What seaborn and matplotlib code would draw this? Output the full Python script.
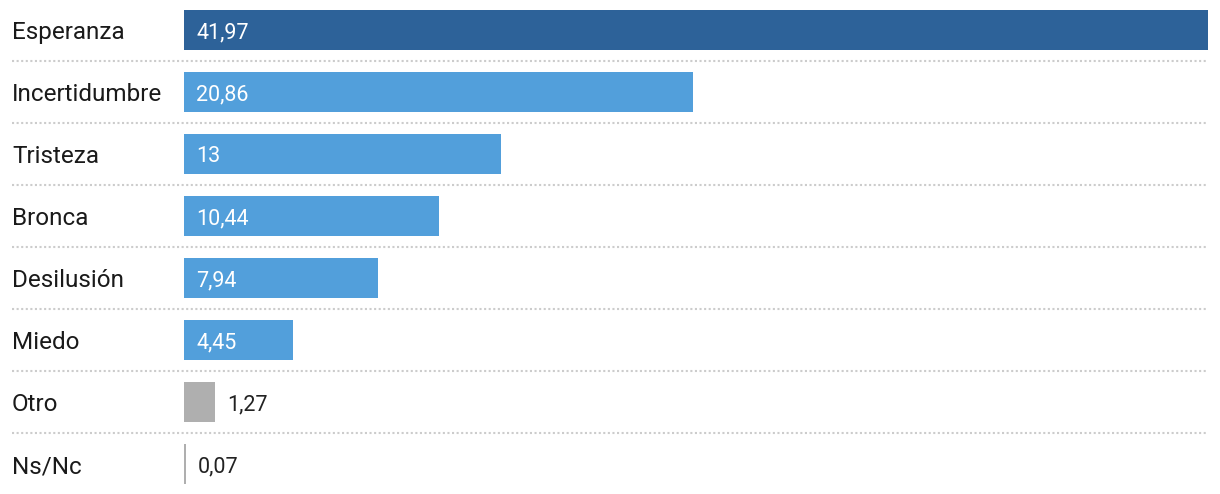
import matplotlib
matplotlib.use("Agg")
import matplotlib.pyplot as plt
import seaborn as sns
import pandas as pd

categories = ["Esperanza", "Incertidumbre", "Tristeza", "Bronca", "Desilusión", "Miedo", "Otro", "Ns/Nc"]
values = [41.97, 20.86, 13, 10.44, 7.94, 4.45, 1.27, 0.07]
value_labels = ["41,97", "20,86", "13", "10,44", "7,94", "4,45", "1,27", "0,07"]
colors = ["#2d6299", "#529fdb", "#529fdb", "#529fdb", "#529fdb", "#529fdb", "#afafaf", "#afafaf"]

df = pd.DataFrame({"cat": categories, "val": values})

sns.set_theme(style="white")
plt.rcParams['font.family'] = ['Roboto', 'DejaVu Sans']

W, H = 1220, 494
fig = plt.figure(figsize=(W / 100, H / 100), dpi=100)
x0, x1 = 184, 1208
ax = fig.add_axes([x0 / W, 0, (x1 - x0) / W, 1])

sns.barplot(data=df, y="cat", x="val", hue="cat", palette=colors, legend=False,
            orient="h", width=40 / 62, saturation=1, ax=ax, linewidth=0)

ax.set_xlim(0, max(values))
ax.set_ylim((494 - 30) / 62, -30 / 62)
ax.axis("off")

px_per_unit = (x1 - x0) / max(values)
for i, (v, lab) in enumerate(zip(values, value_labels)):
    if v >= 3:
        ax.text(12 / px_per_unit, i, lab, color="white", va="center_baseline", ha="left",
                fontsize=15.5)
    else:
        ax.text(v + 12 / px_per_unit, i, lab, color="#222222", va="center_baseline", ha="left",
                fontsize=15.5)
    ax.text(-(x0 - 12) / px_per_unit, i, categories[i], color="#1a1a1a", va="center_baseline",
            ha="left", fontsize=17.5, clip_on=False)

for i in range(len(categories) - 1):
    ax.axhline(i + 0.5, xmin=-(x0 - 12) / (x1 - x0), xmax=1, color="#cccccc", lw=1.5,
               linestyle=(0, (1, 1.2)), clip_on=False)

fig.savefig("out.png", dpi=100)
